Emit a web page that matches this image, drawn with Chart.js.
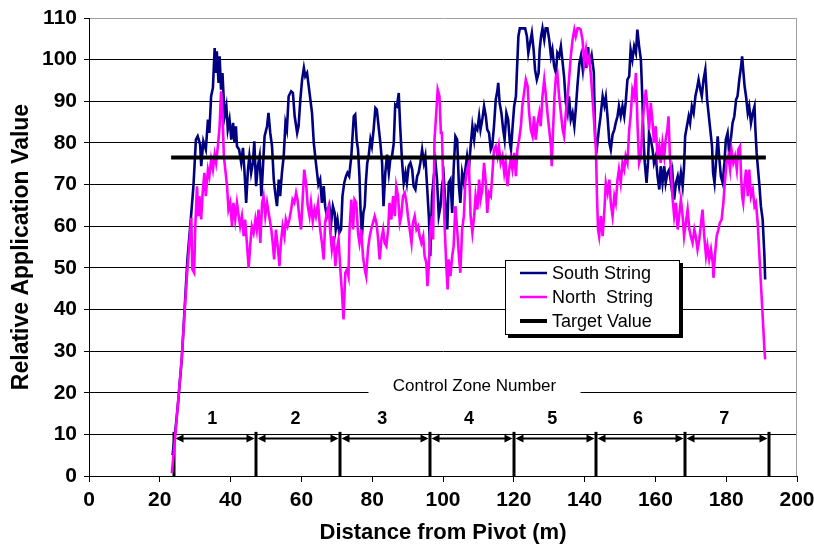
<!DOCTYPE html>
<html><head><meta charset="utf-8">
<script src="https://cdn.jsdelivr.net/npm/chart.js@4.4.0/dist/chart.umd.min.js"></script>
<style>html,body{margin:0;padding:0;background:#fff;}#wrap{width:814px;height:548px;}</style>
</head><body><div id="wrap"><canvas id="c" width="814" height="548"></canvas></div>
<script>
// ---- data ----
const seriesNames = ['South String', 'North  String', 'Target Value'];
const xTickValues = [0, 20, 40, 60, 80, 100, 120, 140, 160, 180, 200];
const yTickValues = [0, 10, 20, 30, 40, 50, 60, 70, 80, 90, 100, 110];
const southString = [[23.6,5],[24.3,10],[25.2,18],[26.2,28],[27,40],[27.8,52],[28.6,60],[29.5,69.6],[30.2,80.8],[30.7,81.6],[31.4,79.6],[31.7,74.4],[32.3,80.4],[33,78.4],[33.6,85.6],[34,82.4],[34.5,91.2],[35,93.2],[35.5,102.8],[35.8,96.8],[36.1,102],[36.6,94.4],[36.9,100.8],[37.3,92.8],[37.7,96.8],[38.3,86.4],[38.8,88.8],[39.2,83.2],[39.7,85.6],[40.2,80.8],[40.7,84.8],[41.1,80],[41.5,84],[41.8,79.2],[42.4,78.4],[43,75.2],[43.5,78.8],[44,72],[44.4,65.6],[44.9,73.6],[45.3,76.8],[45.8,72.8],[46.3,75.2],[46.7,80.4],[47.2,69.6],[47.7,74.4],[48.2,76.8],[48.7,67.2],[49.1,73.6],[49.6,81.6],[50.3,84],[50.7,87.2],[51.2,82.4],[51.7,79.2],[52.2,71.2],[52.6,68],[53.1,64.8],[53.6,71.2],[54,67.2],[54.5,72.8],[55,76.8],[55.5,84.8],[55.9,83.2],[56.4,91.2],[57.1,92.4],[57.6,92],[58.1,86.4],[58.8,82.4],[59.2,84],[59.7,90.4],[60.2,95.2],[60.7,98],[61.1,96],[61.6,96.8],[62.3,92],[63,87.2],[63.5,80],[64.1,75.2],[64.8,70],[65.3,71.2],[65.8,65.6],[66.3,69.6],[66.7,64.8],[67.2,62.4],[67.9,64.8],[68.4,60.8],[68.9,64.8],[69.4,63.2],[69.7,59.2],[70.2,61.6],[70.7,58.4],[71.2,59.2],[71.6,67.2],[72.1,70.4],[72.6,72],[73,72.8],[73.5,72],[74.1,76.8],[74.5,82.4],[74.8,86.4],[75.2,86.8],[75.6,80.8],[76,78.4],[76.4,72],[76.7,64],[77.1,57.6],[77.5,63.2],[77.9,64.8],[78.2,70.4],[78.6,75.2],[79,76.8],[79.5,80.8],[79.9,79.2],[80.4,83.2],[80.9,88.4],[81.3,88],[81.8,84],[82.3,80],[82.8,75.2],[83.2,64.8],[83.7,72.8],[84.2,77.2],[84.7,72.8],[85.1,76],[85.6,76.8],[86.1,80],[86.5,89.2],[87,88.8],[87.5,92],[87.9,84],[88.4,76],[88.9,70.4],[89.4,72.8],[89.8,70.4],[90.3,74.4],[90.8,75.2],[91.3,73.6],[91.7,69.6],[92.2,68.8],[92.7,72],[93.1,72.8],[93.6,75.2],[94.1,78.4],[94.6,75.2],[95,76.8],[95.5,69.6],[96,62.4],[96.4,52.8],[96.9,67.2],[97.4,72],[97.9,75.2],[98.3,71.2],[98.8,62.4],[99.3,64.8],[99.7,69.6],[100.2,72],[100.7,64.8],[101.2,59.2],[101.6,70.4],[102.1,71.2],[102.6,63.2],[103,73.6],[103.5,81.6],[104,80.8],[104.5,69.6],[104.9,65.6],[105.4,72.8],[105.9,70.4],[106.3,73.6],[106.8,76.8],[107.3,73.6],[107.8,79.2],[108.3,84],[108.8,80.8],[109.2,84],[109.7,83.2],[110.2,86.4],[110.6,83.2],[111.1,85.6],[111.6,88.8],[112.1,86.4],[112.5,83.2],[113,82.4],[113.5,78.4],[113.9,79.2],[114.4,84],[114.9,90.4],[115.4,92.8],[115.6,94.4],[116,89.6],[116.5,87.2],[117,83.2],[117.4,80.8],[117.9,87.2],[118.4,85.6],[118.9,80],[119.2,78.4],[119.6,83.2],[120.1,88.8],[120.6,91.2],[120.9,97.6],[121.3,105.6],[121.7,107.5],[122.4,107.5],[123.2,107.5],[123.7,105.6],[124.1,101.6],[124.6,104],[125.1,106.4],[125.6,102.4],[126,97.6],[126.5,95.2],[127,96.8],[127.3,102.4],[127.7,105.6],[128.1,107.5],[128.6,104.8],[129,107.5],[129.5,107.5],[130,104.8],[130.5,100.8],[130.9,102.4],[131.4,98.4],[131.9,96.8],[132.3,101.6],[132.8,100.8],[133.3,103.2],[133.8,99.2],[134.2,96],[134.7,89.6],[135.2,87.2],[135.6,91.2],[136.1,85.6],[136.6,87.2],[137.1,84],[137.5,88],[138,94],[138.5,99],[139,101],[139.5,97.5],[140,102],[140.5,98],[141,103],[141.5,99],[142,101],[142.6,97],[143,80.7],[143.5,79],[144,83],[144.5,86.3],[145.1,91.2],[145.6,89],[146,91],[146.5,86],[147,80],[147.4,78.4],[147.9,82],[148.4,83.2],[148.8,84.8],[149.3,86.4],[149.7,88.8],[150.2,86.4],[150.7,88.8],[151.2,86.4],[151.6,89.6],[152.1,95.2],[152.6,96],[153,102.4],[153.5,100],[154,103.2],[154.5,101.6],[154.9,107.2],[155.4,103.2],[155.9,100],[156.3,91.2],[156.6,81.6],[157,75.2],[157.5,70.4],[157.9,75.2],[158.2,82.4],[158.7,80.8],[159.2,78.4],[159.6,75.2],[160.1,76.8],[160.6,72],[161.1,68.8],[161.5,74.4],[162,70.4],[162.5,74.4],[162.9,70.4],[163.4,72.8],[163.9,73.6],[164.4,70.4],[164.8,72.8],[165.3,66.4],[165.8,70.4],[166.3,72],[166.7,69.6],[167.2,72.8],[167.7,69.6],[168.1,74.4],[168.4,81.6],[168.9,84],[169.4,86.4],[169.8,84.8],[170.3,88.8],[170.8,87.2],[171.3,91.2],[171.7,92.8],[172.2,95.2],[172.7,92.8],[173.1,91.2],[173.6,95.2],[174.1,97.6],[174.6,90.4],[175,87.2],[175.5,83.2],[176,79.2],[176.3,72.8],[176.7,70.4],[177.1,75.2],[177.6,81.6],[178,76.8],[178.5,72],[179,70.4],[179.5,75.2],[179.9,80.8],[180.4,82.4],[180.9,76.8],[181.3,80.8],[181.8,84.8],[182.3,86.4],[182.8,90.4],[183.2,91.2],[183.7,95.2],[184.2,98.4],[184.5,100.8],[184.8,97.6],[185.2,93.6],[185.6,91.2],[186.1,87.2],[186.5,88.8],[187,84.8],[187.5,87.2],[188,88.8],[188.2,84],[188.6,77.6],[189,73.6],[189.4,69.6],[189.8,64.8],[190.3,61.6],[190.8,52.8],[191,47.2]];
const northString = [[23.4,0.7],[24.2,8],[25,16],[26.2,28.4],[27,39.2],[27.6,47.2],[28.3,55.2],[28.9,62],[29.2,49.6],[29.7,48.8],[30,59.2],[30.5,69.6],[30.9,62.4],[31.2,67.2],[31.7,61.6],[32.1,68],[32.6,72.8],[33,67.2],[33.6,73.6],[34,72],[34.5,76],[35,73.6],[35.5,77.2],[35.9,75.2],[36.4,79.2],[36.9,84],[37.3,92.4],[37.7,87.2],[38.1,76.8],[38.5,73.6],[39,69.6],[39.4,64],[39.9,65.6],[40.4,60],[40.8,65.6],[41.3,61.6],[41.8,65.6],[42.3,62.4],[42.7,60],[43.2,62.4],[43.7,57.6],[44.1,61.6],[44.6,56],[45.1,50],[45.6,56],[46,60],[46.5,58.4],[47,61.6],[47.4,59.2],[47.9,64],[48.4,56],[48.9,65.6],[49.3,67.2],[49.8,62.4],[50.3,65.6],[50.9,62.4],[51.5,59.2],[51.9,56],[52.3,52],[52.8,59.2],[53.3,55.2],[53.8,50.4],[54.2,56],[54.7,60],[55.2,57.6],[55.6,61.6],[56.1,60],[56.6,61.6],[57.1,64],[57.5,66.4],[58,65.6],[58.5,68],[58.9,66.4],[59.4,62.4],[59.9,59.2],[60.4,67.2],[60.8,73.6],[61.3,70.4],[61.8,64.8],[62.3,62.4],[62.7,65.6],[63.2,61.2],[63.7,64],[64.1,62.4],[64.7,65.6],[65.3,59.2],[65.8,56],[66.3,52],[66.7,60.8],[67.2,63.2],[67.7,64.8],[68.1,59.2],[68.6,54.4],[69.1,57.6],[69.6,50.4],[70,54.4],[70.5,56.8],[71,49.6],[71.4,44.8],[71.9,37.6],[72.4,48.8],[72.9,49.6],[73.3,48],[73.6,59.2],[74.1,66.4],[74.6,59.2],[75,66.4],[75.5,65.6],[76,58.4],[76.4,56],[76.9,59.2],[77.4,52.8],[77.9,49.6],[78.3,48],[78.8,54.4],[79.3,57.6],[79.7,59.2],[80.2,60.8],[80.7,62.4],[81.2,60.8],[81.6,57.6],[82.1,52],[82.6,56.8],[83.1,59.2],[83.5,56],[84,55.2],[84.5,59.2],[84.9,65.6],[85.4,61.6],[85.9,67.2],[86.4,62.4],[86.8,69.6],[87.3,67.2],[87.8,60.8],[88.2,62.4],[88.7,67.2],[89.2,68],[89.7,65.6],[90.1,62.4],[90.6,59.2],[91.1,56],[91.5,60.8],[92,62.4],[92.5,59.2],[93,60],[93.4,57.6],[93.9,56],[94.4,57.6],[94.8,52.8],[95.3,51.2],[95.6,45.6],[96,50.4],[96.4,59.2],[96.9,62.4],[97.2,56.8],[97.6,80.8],[98.1,87.2],[98.5,92.8],[99,91.2],[99.4,82.4],[99.7,82.4],[100.1,68.8],[100.5,59.2],[100.9,51.2],[101.3,44.8],[101.6,52],[102.1,48],[102.6,52.8],[103,55.2],[103.5,64.8],[104,59.2],[104.5,52.8],[104.9,48.8],[105.4,59.2],[105.9,62.4],[106.3,70.4],[106.8,73.6],[107.3,75.2],[107.8,62.4],[108.3,58.4],[108.8,62.4],[109.2,67.2],[109.7,64],[110.2,71.2],[110.6,66.4],[111.1,68.8],[111.6,75.2],[112.1,70.4],[112.5,63.2],[113,68],[113.5,67.2],[113.9,72],[114.4,78.4],[114.9,79.2],[115.4,76.8],[115.8,79.2],[116.3,75.2],[116.8,76.8],[117.3,72.8],[117.7,75.2],[118.2,69.6],[118.7,73.6],[119.1,76],[119.6,73.6],[120.1,77.6],[120.6,72],[121,78.4],[121.5,80.8],[122,84],[122.4,88.8],[122.9,92],[123.4,95.2],[123.9,93.6],[124.3,87.6],[124.8,83.2],[125.3,81.6],[125.7,86.4],[126.2,80.8],[126.7,84.8],[127.2,87.2],[127.6,84],[128.1,91.2],[128.6,95.2],[129,92],[129.5,87.2],[130,83.2],[130.5,79.2],[130.7,74.4],[131.1,83.2],[131.5,91.2],[131.9,96],[132.3,96.8],[132.8,91.2],[133.3,87.2],[133.8,83.2],[134.2,81.6],[134.7,87.2],[135.2,91.2],[135.6,95.2],[136.1,100.8],[136.6,104.8],[137.1,107.2],[137.5,105.6],[138,107.5],[138.5,107.5],[138.9,107.2],[139.4,104.8],[139.9,99.2],[140.4,102.4],[140.8,99.2],[141.3,100.8],[141.8,96],[142.2,91.2],[142.7,84.8],[143.2,78.4],[143.5,67.2],[143.8,59.2],[144.1,57.6],[144.6,62.4],[145.1,57.6],[145.6,64],[146,70.4],[146.5,68],[147,71.2],[147.4,65.6],[147.9,62.4],[148.4,67.2],[148.8,65.6],[149.3,71.2],[149.7,73.6],[150.2,70.4],[150.7,75.2],[151.2,73.6],[151.6,76.8],[152.1,75.2],[152.6,83.2],[153,86.4],[153.5,92.8],[154,91.2],[154.5,96.8],[154.7,91.2],[155,83.2],[155.4,75.2],[155.9,76.8],[156.3,84],[156.8,88.8],[157.3,92.8],[157.8,88],[158.2,83.2],[158.7,89.6],[159.2,84.8],[159.6,80],[160.1,84],[160.6,76.8],[161.1,79.2],[161.5,75.2],[162,80],[162.5,76.8],[162.9,80.8],[163.4,83.2],[163.7,86.4],[164.1,76.8],[164.4,73.6],[164.8,67.2],[165.3,62.4],[165.8,65.6],[166.3,59.2],[166.7,62.4],[167.2,66.4],[167.7,62.4],[168.1,57.6],[168.6,60.8],[169.1,64],[169.6,59.2],[170,57.6],[170.5,56],[171,59.2],[171.4,57.6],[171.9,54.4],[172.4,56.8],[172.9,60.8],[173.3,64],[173.8,57.6],[174.3,52.8],[174.7,55.2],[175.2,52],[175.7,54.4],[176.2,51.2],[176.4,47.6],[176.8,52.8],[177.3,57.6],[177.8,59.2],[178.2,60.8],[178.7,61.6],[179.2,65.6],[179.6,70.4],[180.1,75.2],[180.6,76.8],[181.1,73.6],[181.5,78.4],[182,75.2],[182.5,76.8],[183,73.6],[183.4,78.4],[183.9,79.2],[184.2,72],[184.5,67.2],[184.8,65.6],[185.2,70.4],[185.6,73.6],[186.1,67.2],[186.5,73.6],[187,67.2],[187.5,68.8],[188,64.8],[188.4,65.6],[188.9,60.8],[189.4,52.8],[189.8,46.4],[190.3,38.4],[190.8,30.4],[191,28]];
const targetValue = [[23.2,76.5],[191.2,76.5]];
const zoneBounds = [24, 47.3, 71, 96.3, 120, 143.3, 168.5, 192];
const zoneLabels = ['1', '2', '3', '4', '5', '6', '7'];
const zoneTitle = 'Control Zone Number';

// ---- styles ----
const FONT = "'Liberation Sans', Arial, Helvetica, sans-serif";
const toXY = arr => arr.map(p => ({x: p[0], y: p[1]}));

const zonePlugin = {
  id: 'zones',
  beforeDatasetsDraw(chart) {
    const {ctx, scales: {x, y}} = chart;
    ctx.save();
    const tx = x.getPixelForValue(108.9), ty = y.getPixelForValue(21.6);
    ctx.fillStyle = '#fff';
    ctx.fillRect(tx - 106, ty - 9, 212, 17);
    ctx.fillStyle = '#000';
    ctx.font = '17px ' + FONT;
    ctx.textAlign = 'center';
    ctx.textBaseline = 'middle';
    ctx.fillText(zoneTitle, tx, ty);
    const y0 = y.getPixelForValue(0), yTop = y.getPixelForValue(10.6), yArr = y.getPixelForValue(9);
    ctx.strokeStyle = '#000';
    ctx.lineWidth = 3;
    zoneBounds.forEach(b => {
      const px = Math.round(x.getPixelForValue(b));
      ctx.beginPath(); ctx.moveTo(px, y0); ctx.lineTo(px, yTop); ctx.stroke();
    });
    ctx.font = 'bold 18px ' + FONT;
    for (let i = 0; i < zoneBounds.length - 1; i++) {
      const a = Math.round(x.getPixelForValue(zoneBounds[i])) + 1.5;
      const b = Math.round(x.getPixelForValue(zoneBounds[i + 1])) - 1.5;
      ctx.lineWidth = 2;
      ctx.beginPath(); ctx.moveTo(a + 4, yArr); ctx.lineTo(b - 4, yArr); ctx.stroke();
      ctx.fillStyle = '#000';
      ctx.beginPath(); ctx.moveTo(a, yArr); ctx.lineTo(a + 8, yArr - 4); ctx.lineTo(a + 8, yArr + 4); ctx.closePath(); ctx.fill();
      ctx.beginPath(); ctx.moveTo(b, yArr); ctx.lineTo(b - 8, yArr - 4); ctx.lineTo(b - 8, yArr + 4); ctx.closePath(); ctx.fill();
      const mid = (zoneBounds[i] + zoneBounds[i + 1]) / 2 - 0.8;
      ctx.fillText(zoneLabels[i], x.getPixelForValue(mid), y.getPixelForValue(13.7));
    }
    const ca = chart.chartArea;
    ctx.strokeStyle = '#a0a0a0'; ctx.lineWidth = 1;
    ctx.beginPath(); ctx.moveTo(ca.right - 0.5, ca.top); ctx.lineTo(ca.right - 0.5, ca.bottom); ctx.stroke();
    ctx.restore();
  },
  afterDraw(chart) {
    const ctx = chart.ctx;
    ctx.save();
    const L = 505, T = 260, W = 175, H = 75;
    ctx.fillStyle = '#000';
    ctx.fillRect(L + 3, T + 3, W, H);
    ctx.fillStyle = '#fff';
    ctx.fillRect(L, T, W, H);
    ctx.strokeStyle = '#000'; ctx.lineWidth = 1;
    ctx.strokeRect(L + 0.5, T + 0.5, W - 1, H - 1);
    const cols = ['#000080', '#ff00ff', '#000000'];
    const widths = [2.5, 2.5, 4];
    ctx.font = '18px ' + FONT;
    ctx.textAlign = 'left'; ctx.textBaseline = 'middle';
    seriesNames.forEach((n, i) => {
      const yy = T + 13 + i * 24;
      ctx.strokeStyle = cols[i]; ctx.lineWidth = widths[i];
      ctx.beginPath(); ctx.moveTo(520, yy); ctx.lineTo(547, yy); ctx.stroke();
      ctx.fillStyle = '#000';
      ctx.fillText(n, 552, yy + 1);
    });
    ctx.restore();
  }
};

new Chart(document.getElementById('c'), {
  type: 'line',
  data: {
    datasets: [
      {label: seriesNames[0], data: toXY(southString), borderColor: '#000080', borderWidth: 2.6, pointRadius: 0, tension: 0, order: 3},
      {label: seriesNames[1], data: toXY(northString), borderColor: '#ff00ff', borderWidth: 2.6, pointRadius: 0, tension: 0, order: 2},
      {label: seriesNames[2], data: toXY(targetValue), borderColor: '#000000', borderWidth: 4, pointRadius: 0, tension: 0, order: 1}
    ]
  },
  options: {
    responsive: false, animation: false, devicePixelRatio: 1,
    layout: {padding: {top: 18, right: 17, left: 0, bottom: 0}},
    plugins: {legend: {display: false}, tooltip: {enabled: false}},
    scales: {
      x: {
        type: 'linear', min: 0, max: 200,
        afterBuildTicks: s => { s.ticks = xTickValues.map(v => ({value: v})); },
        afterFit: s => { s.height = 72; s.paddingLeft = 0; s.paddingRight = 0; },
        grid: {drawOnChartArea: false, drawTicks: true, tickLength: 6, color: '#000'},
        border: {color: '#000', width: 1},
        ticks: {color: '#000', font: {family: FONT, size: 21, weight: 'bold'}, padding: 6, maxRotation: 0, autoSkip: false},
        title: {display: true, text: 'Distance from Pivot (m)', color: '#000', font: {family: FONT, size: 22, weight: 'bold'}, padding: {top: 0, bottom: 2}}
      },
      y: {
        type: 'linear', min: 0, max: 110,
        afterBuildTicks: s => { s.ticks = yTickValues.map(v => ({value: v})); },
        afterFit: s => { s.width = 89; s.paddingTop = 0; s.paddingBottom = 0; },
        grid: {color: c => (c.tick && c.tick.value === 110) ? '#a0a0a0' : '#000', tickColor: '#000', tickLength: 5, lineWidth: 1},
        border: {color: '#000', width: 1},
        ticks: {color: '#000', font: {family: FONT, size: 21, weight: 'bold'}, padding: 7},
        title: {display: true, text: 'Relative Application Value', color: '#000', font: {family: FONT, size: 23, weight: 'bold'}, padding: {top: 8, bottom: 0}}
      }
    }
  },
  plugins: [zonePlugin]
});
</script>
</body></html>
